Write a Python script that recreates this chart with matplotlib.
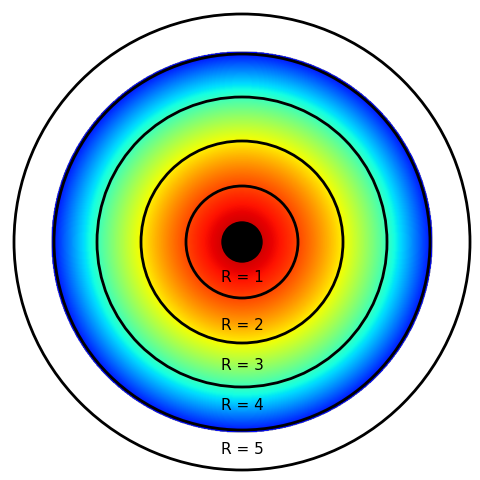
import numpy as np
import matplotlib
matplotlib.use("Agg")
import matplotlib.pyplot as plt
from matplotlib.patches import Circle

# ring radii (pixels from centre)
labels = ["R = 1", "R = 2", "R = 3", "R = 4", "R = 5"]
ring_radii = [56, 101, 145, 188, 228]
label_offsets = [36, 83, 123, 164, 208]
color_edge = 191
dot_radius = 20

fig = plt.figure(figsize=(4.8, 4.8), dpi=100)
ax = fig.add_axes([0, 0, 1, 1])
ax.set_xlim(-242, 238)
ax.set_ylim(-238, 242)
ax.set_aspect("equal")
ax.axis("off")

# radial colour field
n = 600
xs = np.linspace(-color_edge, color_edge, n)
X, Y = np.meshgrid(xs, xs)
r = np.sqrt(X**2 + Y**2) / color_edge
field = np.ma.masked_where(r > 1, 0.95 - 0.82 * r**1.6)
img = ax.imshow(field, cmap="jet", vmin=0, vmax=1, origin="lower",
                extent=[-color_edge, color_edge, -color_edge, color_edge],
                interpolation="bilinear")
img.set_clip_path(Circle((0, 0), color_edge, transform=ax.transData))

for rad in ring_radii:
    ax.add_patch(Circle((0, 0), rad, fill=False, edgecolor="black", lw=2))
ax.add_patch(Circle((0, 0), dot_radius, color="black"))

for lab, off in zip(labels, label_offsets):
    ax.text(0, -off, lab, ha="center", va="center", fontsize=11, color="black")

fig.savefig("out.png", dpi=100)
